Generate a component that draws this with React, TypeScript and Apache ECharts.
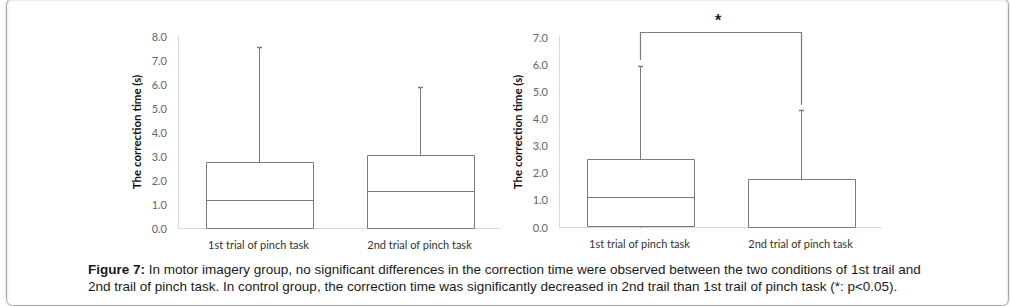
import React, { useEffect, useRef } from "react";
import * as echarts from "echarts";

const categories = ["1st trial of pinch task", "2nd trial of pinch task"];
// [min, Q1, median, Q3, max]
const motorImagery = [
  [0, 0, 1.17, 2.75, 7.55],
  [0, 0, 1.54, 3.04, 5.89],
];
const controlGroup = [
  [0, 0.05, 1.12, 2.49, 5.94],
  [0, 0, 0, 1.77, 4.32],
];
const leftTicks = { min: 0, max: 8, interval: 1 };
const rightTicks = { min: 0, max: 7, interval: 1 };
// significance bracket: [leftCat, leftBottom, rightCat, rightBottom, top, starY]
const bracket = [[0, 6.15, 1, 4.5, 7.2, 7.62]];
const yName = "The correction time (s)";
const captionBold = "Figure 7:";
const captionLine1 =
  " In motor imagery group, no significant differences in the correction time were observed between the two conditions of 1st trail and";
const captionLine2 =
  "2nd trail of pinch task. In control group, the correction time was significantly decreased in 2nd trail than 1st trail of pinch task (*: p<0.05).";

const AXIS_FONT = "Lato, 'Open Sans', sans-serif";
const LINE = "#7a7a7a";

function boxRender(params: any, api: any) {
  const c = api.value(0);
  const vMin = api.value(1);
  const q1 = api.value(2);
  const med = api.value(3);
  const q3 = api.value(4);
  const vMax = api.value(5);
  const band = api.size([1, 0])[0];
  const bw = band * 0.66;
  const pQ1 = api.coord([c, q1]);
  const pQ3 = api.coord([c, q3]);
  const pMed = api.coord([c, med]);
  const pMax = api.coord([c, vMax]);
  const pMin = api.coord([c, vMin]);
  const cx = Math.round(pQ1[0]) + 0.5;
  const x0 = Math.round(cx - bw / 2) + 0.5;
  const x1 = Math.round(cx + bw / 2) + 0.5;
  const yq1 = Math.round(pQ1[1]) + 0.5;
  const yq3 = Math.round(pQ3[1]) + 0.5;
  const ymed = Math.round(pMed[1]) + 0.5;
  const ymax = Math.round(pMax[1]) + 0.5;
  const ymin = Math.round(pMin[1]) + 0.5;
  const st = { stroke: LINE, lineWidth: 1, fill: null };
  return {
    type: "group",
    children: [
      { type: "line", shape: { x1: cx, y1: yq3, x2: cx, y2: ymax }, style: st },
      { type: "line", shape: { x1: cx - 2.5, y1: ymax, x2: cx + 2.5, y2: ymax }, style: { stroke: LINE, lineWidth: 1.5 } },
      { type: "line", shape: { x1: cx, y1: yq1, x2: cx, y2: ymin }, style: st },
      { type: "rect", shape: { x: x0, y: yq3, width: x1 - x0, height: yq1 - yq3 }, style: { stroke: LINE, lineWidth: 1, fill: "#fff" } },
      { type: "line", shape: { x1: x0, y1: ymed, x2: x1, y2: ymed }, style: st },
    ],
  };
}

function bracketRender(params: any, api: any) {
  const pL = api.coord([api.value(0), api.value(1)]);
  const pR = api.coord([api.value(2), api.value(3)]);
  const pTop = api.coord([api.value(0), api.value(4)]);
  const pStar = api.coord([api.value(0), api.value(5)]);
  const xl = Math.round(pL[0]) + 0.5;
  const xr = Math.round(pR[0]) + 0.5;
  const yt = Math.round(pTop[1]) + 0.5;
  return {
    type: "group",
    children: [
      {
        type: "polyline",
        shape: { points: [[xl, pL[1]], [xl, yt], [xr, yt], [xr, pR[1]]] },
        style: { stroke: LINE, lineWidth: 1.2, fill: null },
      },
      {
        type: "text",
        x: (xl + xr) / 2 - 3,
        y: pStar[1],
        style: { text: "*", font: "bold 16px 'Liberation Sans', Arial, sans-serif", fill: "#222", align: "center", verticalAlign: "middle" },
      },
    ],
  };
}

function makeYAxis(gridIndex: number, t: any) {
  return {
    type: "value",
    gridIndex,
    min: t.min,
    max: t.max,
    interval: t.interval,
    name: yName,
    nameLocation: "middle",
    nameGap: 36,
    nameTextStyle: { fontFamily: AXIS_FONT, fontWeight: "bold", fontSize: 11.5, color: "#111" },
    axisLine: { show: true, lineStyle: { color: "#d9d9d9" } },
    axisTick: { show: false },
    splitLine: { show: false },
    axisLabel: { formatter: (v: number) => v.toFixed(1), fontFamily: AXIS_FONT, fontSize: 11, color: "#666", margin: 11 },
  };
}

function makeXAxis(gridIndex: number) {
  return {
    type: "category",
    gridIndex,
    data: categories,
    boundaryGap: true,
    axisLine: { show: true, lineStyle: { color: "#d9d9d9" } },
    axisTick: { show: false },
    axisLabel: { fontFamily: AXIS_FONT, fontSize: 11, color: "#333", margin: 11 },
  };
}

export default function App() {
  const ref = useRef<HTMLDivElement>(null);
  useEffect(() => {
    document.body.style.margin = "0";
    const chart = echarts.init(ref.current!, null, { renderer: "svg" });
    const toRows = (arr: number[][]) => arr.map((d, i) => [i, ...d]);
    chart.setOption({
      animation: false,
      backgroundColor: "#fff",
      grid: [
        { left: 178, top: 36, width: 322, height: 192 },
        { left: 559, top: 37, width: 322, height: 190 },
      ],
      xAxis: [makeXAxis(0), makeXAxis(1)],
      yAxis: [makeYAxis(0, leftTicks), makeYAxis(1, rightTicks)],
      series: [
        {
          type: "custom",
          xAxisIndex: 0,
          yAxisIndex: 0,
          data: toRows(motorImagery),
          encode: { x: 0, y: [1, 2, 3, 4, 5] },
          renderItem: boxRender,
        },
        {
          type: "custom",
          xAxisIndex: 1,
          yAxisIndex: 1,
          data: toRows(controlGroup),
          encode: { x: 0, y: [1, 2, 3, 4, 5] },
          renderItem: boxRender,
        },
        {
          type: "custom",
          xAxisIndex: 1,
          yAxisIndex: 1,
          data: bracket,
          encode: { x: [0, 2], y: [1, 3] },
          renderItem: bracketRender,
          clip: false,
        },
      ],
      graphic: [
        {
          type: "rect",
          left: 4,
          top: -4,
          shape: { x: 0, y: 0, width: 1002, height: 307, r: 6 },
          style: { fill: null, stroke: "#a8a8a8", lineWidth: 1, shadowBlur: 2, shadowColor: "rgba(0,0,0,0.25)", shadowOffsetY: 1 },
          silent: true,
        },
        {
          type: "text",
          left: 88,
          top: 261,
          style: {
            text: "{b|" + captionBold + "}" + captionLine1 + "\n" + captionLine2,
            font: "13.5px 'Liberation Sans', Arial, sans-serif",
            fill: "#1a1a1a",
            lineHeight: 17,
            rich: {
              b: { font: "bold 13.5px 'Liberation Sans', Arial, sans-serif", fill: "#1a1a1a", lineHeight: 17 },
            },
          },
        },
      ],
    });
    return () => chart.dispose();
  }, []);
  return <div ref={ref} style={{ width: 1010, height: 306 }} />;
}
